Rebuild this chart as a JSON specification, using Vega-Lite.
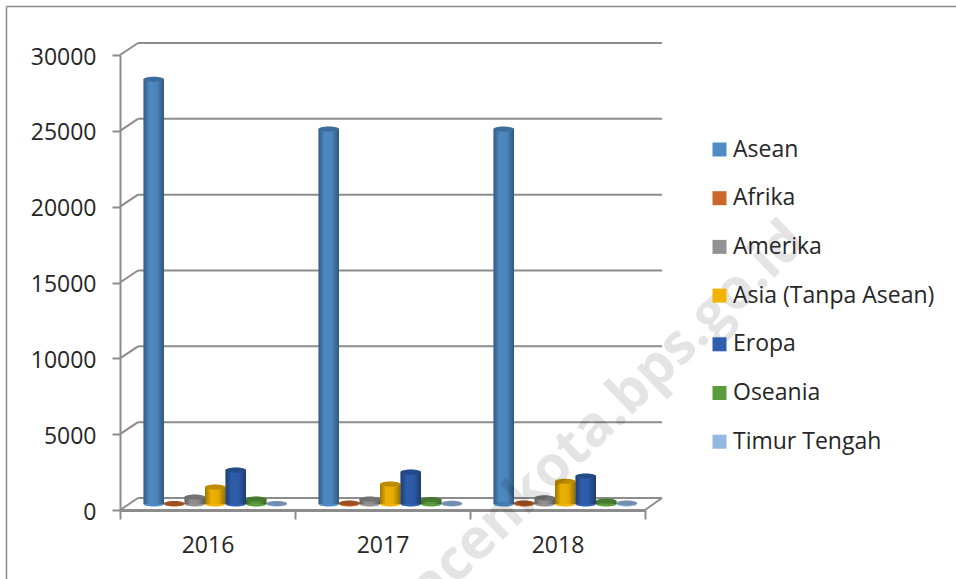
{
"$schema":"https://vega.github.io/schema/vega-lite/v6.json",
"width":525,"height":455,
"autosize":"none",
"padding":{"left":120,"top":55,"right":311,"bottom":69},
"background":"white",
"config":{"view":{"stroke":null},"font":"Open Sans","text":{"font":"Open Sans"}},
"datasets":{
"rows":[
{"year":"2016","region":"Asean","value":28000},{"year":"2016","region":"Afrika","value":30},{"year":"2016","region":"Amerika","value":460},{"year":"2016","region":"Asia (Tanpa Asean)","value":1120},{"year":"2016","region":"Eropa","value":2240},{"year":"2016","region":"Oseania","value":330},{"year":"2016","region":"Timur Tengah","value":30},
{"year":"2017","region":"Asean","value":24720},{"year":"2017","region":"Afrika","value":60},{"year":"2017","region":"Amerika","value":330},{"year":"2017","region":"Asia (Tanpa Asean)","value":1320},{"year":"2017","region":"Eropa","value":2100},{"year":"2017","region":"Oseania","value":300},{"year":"2017","region":"Timur Tengah","value":40},
{"year":"2018","region":"Asean","value":24720},{"year":"2018","region":"Afrika","value":60},{"year":"2018","region":"Amerika","value":400},{"year":"2018","region":"Asia (Tanpa Asean)","value":1500},{"year":"2018","region":"Eropa","value":1850},{"year":"2018","region":"Oseania","value":200},{"year":"2018","region":"Timur Tengah","value":60}
],
"ticks":[{"tick":0,"back":790},{"tick":5000,"back":5790},{"tick":10000,"back":10790},{"tick":15000,"back":15790},{"tick":20000,"back":20790},{"tick":25000,"back":25790},{"tick":30000,"back":30790}]
},
"resolve":{"scale":{"x":"independent"}},
"layer":[
{"data":{"name":"ticks"},"mark":{"type":"rule","color":"#8c8c8c","strokeWidth":2,"yOffset":-12},
 "encoding":{"x":{"datum":0,"type":"quantitative","scale":{"domain":[0,1],"range":[18,542]},"axis":null},"x2":{"datum":1},
 "y":{"field":"tick","type":"quantitative","scale":{"domain":[0,30000],"range":[455,0],"nice":false},"axis":{"title":null,"values":[0,5000,10000,15000,20000,25000,30000],"format":"d","grid":false,"labelFontSize":23,"labelColor":"#262626","labelPadding":16,"labelOffset":2,"tickSize":8,"tickColor":"#8c8c8c","tickWidth":2,"domainColor":"#8c8c8c","domainWidth":2}}}},
{"data":{"values":[{"edge":"top"}]},"mark":{"type":"rule","color":"#8a8a8a","strokeWidth":1.5,"clip":false},
 "encoding":{"x":{"datum":0,"type":"quantitative","scale":{"domain":[0,1],"range":[-113.5,836]},"axis":null},"x2":{"datum":1},
 "y":{"datum":33198,"type":"quantitative"}}},
{"data":{"values":[{"edge":"left"}]},"mark":{"type":"rule","color":"#8a8a8a","strokeWidth":1.5,"clip":false},
 "encoding":{"x":{"datum":0,"type":"quantitative","scale":{"domain":[0,1],"range":[-113.5,836]},"axis":null},
 "y":{"datum":33198,"type":"quantitative"},"y2":{"datum":-5000}}},
{"data":{"name":"ticks"},"mark":{"type":"rule","color":"#8c8c8c","strokeWidth":2},
 "encoding":{"x":{"datum":0,"type":"quantitative","scale":{"domain":[0,1],"range":[0,18]},"axis":null},"x2":{"datum":1},
 "y":{"field":"tick","type":"quantitative"},"y2":{"field":"back"}}},
{"data":{"values":[{"tick":0,"back":790}]},"mark":{"type":"rule","color":"#8c8c8c","strokeWidth":2},
 "encoding":{"x":{"datum":0,"type":"quantitative","scale":{"domain":[0,1],"range":[525,542]},"axis":null},"x2":{"datum":1},
 "y":{"field":"tick","type":"quantitative"},"y2":{"field":"back"}}},
{"data":{"name":"rows"},"mark":{"type":"point","filled":true,"opacity":1,"size":420,"yOffset":-6,"shape":"M-1,0A1,0.25,0,1,1,1,0A1,0.25,0,1,1,-1,0Z"},
 "encoding":{"x":{"field":"year","type":"nominal","scale":{"paddingInner":0,"paddingOuter":0,"range":[0,525]},"axis":null},
  "xOffset":{"field":"region","type":"nominal","sort":null,"scale":{"type":"band","domain":["Asean","Afrika","Amerika","Asia (Tanpa Asean)","Eropa","Oseania","Timur Tengah"],"range":[23.5,167],"paddingInner":0,"paddingOuter":0}},
  "y":{"datum":0,"type":"quantitative"},
  "color":{"field":"region","type":"nominal","scale":{"domain":["Asean","Afrika","Amerika","Asia (Tanpa Asean)","Eropa","Oseania","Timur Tengah"],"range":["#4f8cc6","#c9682a","#929292","#f0b400","#2f5fae","#5a9c3c","#94b8e2"]},
   "legend":{"title":null,"orient":"none","legendX":588,"legendY":83,"symbolType":"square","symbolSize":196,"symbolOpacity":1,"labelFontSize":23,"labelColor":"#262626","labelOffset":2,"rowPadding":24.7,"labelLimit":300}}}},
{"data":{"name":"rows"},"mark":{"type":"bar","yOffset":-6,"y2Offset":-6},
 "encoding":{"x":{"field":"year","type":"nominal","scale":{"paddingInner":0,"paddingOuter":0,"range":[0,525]},
   "axis":{"title":null,"labelAngle":0,"labelFontSize":23,"labelColor":"#262626","labelPadding":15,"tickSize":9,"tickColor":"#8c8c8c","tickWidth":2,"domainColor":"#8c8c8c","domainWidth":3,"tickBand":"extent"}},
  "xOffset":{"field":"region","type":"nominal","sort":null,"scale":{"type":"band","domain":["Asean","Afrika","Amerika","Asia (Tanpa Asean)","Eropa","Oseania","Timur Tengah"],"range":[23.5,167],"paddingInner":0,"paddingOuter":0}},
  "y":{"field":"value","type":"quantitative","stack":false},"y2":{"datum":0},
  "color":{"field":"region","type":"nominal","legend":null}}},
{"data":{"name":"rows"},"mark":{"type":"bar","yOffset":-6,"y2Offset":-6,"color":{"gradient":"linear","x1":0,"x2":1,"y1":0,"y2":0,"stops":[{"offset":0,"color":"rgba(0,0,0,0.35)"},{"offset":0.3,"color":"rgba(0,0,0,0.02)"},{"offset":0.65,"color":"rgba(0,0,0,0.05)"},{"offset":1,"color":"rgba(0,0,0,0.38)"}]}},
 "encoding":{"x":{"field":"year","type":"nominal","scale":{"paddingInner":0,"paddingOuter":0,"range":[0,525]},"axis":null},
  "xOffset":{"field":"region","type":"nominal","sort":null,"scale":{"type":"band","domain":["Asean","Afrika","Amerika","Asia (Tanpa Asean)","Eropa","Oseania","Timur Tengah"],"range":[23.5,167],"paddingInner":0,"paddingOuter":0}},
  "y":{"field":"value","type":"quantitative","stack":false},"y2":{"datum":0}}},
{"data":{"name":"rows"},"mark":{"type":"point","filled":true,"opacity":1,"size":420,"yOffset":-6,"shape":"M-1,0A1,0.25,0,1,1,1,0A1,0.25,0,1,1,-1,0Z"},
 "encoding":{"x":{"field":"year","type":"nominal","scale":{"paddingInner":0,"paddingOuter":0,"range":[0,525]},"axis":null},
  "xOffset":{"field":"region","type":"nominal","sort":null,"scale":{"type":"band","domain":["Asean","Afrika","Amerika","Asia (Tanpa Asean)","Eropa","Oseania","Timur Tengah"],"range":[23.5,167],"paddingInner":0,"paddingOuter":0}},
  "y":{"field":"value","type":"quantitative"},
  "color":{"field":"region","type":"nominal","legend":null}}},
{"data":{"name":"rows"},"mark":{"type":"point","filled":true,"color":"#000000","opacity":0.22,"size":420,"yOffset":-6,"shape":"M-1,0A1,0.25,0,1,1,1,0A1,0.25,0,1,1,-1,0Z"},
 "encoding":{"x":{"field":"year","type":"nominal","scale":{"paddingInner":0,"paddingOuter":0,"range":[0,525]},"axis":null},
  "xOffset":{"field":"region","type":"nominal","sort":null,"scale":{"type":"band","domain":["Asean","Afrika","Amerika","Asia (Tanpa Asean)","Eropa","Oseania","Timur Tengah"],"range":[23.5,167],"paddingInner":0,"paddingOuter":0}},
  "y":{"field":"value","type":"quantitative"}}},
{"data":{"values":[{"site":"acenkota.bps.go.id"}]},"mark":{"type":"text","angle":-44,"fontSize":56,"fontWeight":"bold","color":"#000000","opacity":0.1,"align":"right","baseline":"middle","font":"Open Sans"},
 "encoding":{"text":{"field":"site"},"x":{"datum":0.5,"type":"quantitative","scale":{"domain":[0,1],"range":[677,677]},"axis":null},
 "y":{"datum":18330,"type":"quantitative"}}}
]
}
